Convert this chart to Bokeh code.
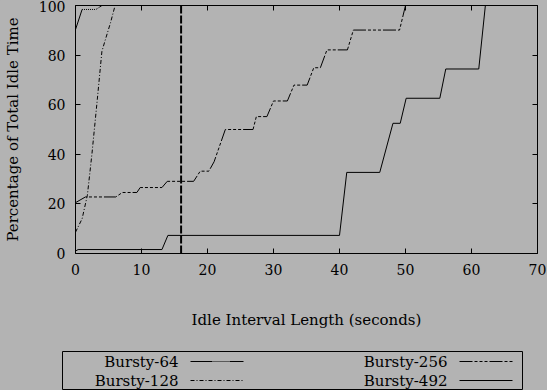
from bokeh.plotting import figure
from bokeh.models import Range1d, LinearAxis, FixedTicker, GlobalInlineStyleSheet
from bokeh.layouts import column, row
from bokeh.embed import file_html
from bokeh.resources import INLINE
from bokeh.core.properties import value

# ---------------- data ----------------
series_names = ["Bursty-64", "Bursty-128", "Bursty-256", "Bursty-492"]

b64_x = [0, 1.0, 3.1, 4.0, 70]
b64_y = [90.3, 98.4, 98.4, 100, 100]

b128_x = [0, 1.0, 1.8, 2.5, 3.3, 4.0, 4.5, 5.3, 6.0, 70]
b128_y = [8.6, 14, 23.5, 40.4, 62, 81.5, 86, 93, 100, 100]

b256_x = [0, 1.5, 6.1, 7.1, 9.3, 9.8, 13.1, 13.9, 17.9, 18.9, 20.2, 21.0, 22.7,
          26.9, 27.4, 29.0, 30.0, 32.1, 33.1, 35.1, 36.1, 37.1, 38.1, 41.2,
          42.1, 49.1, 50.0, 70]
b256_y = [20.5, 22.8, 22.8, 24.6, 24.6, 26.6, 26.6, 29.1, 29.1, 33.2, 33.2, 37, 50,
          50, 55.2, 55.2, 61.5, 61.5, 67.9, 67.9, 74.9, 74.9, 82.1, 82.1,
          90.1, 90.1, 100, 100]

b492_x = [0, 0.4, 13.1, 14.0, 40.0, 41.1, 46.1, 48.1, 49.2, 50.1, 55.2, 56.1, 61.1, 62.1, 70]
b492_y = [1.0, 1.6, 1.6, 7.3, 7.3, 32.7, 32.7, 52.5, 52.5, 62.6, 62.6, 74.4, 74.4, 100, 100]

threshold_x = [16, 16]
threshold_y = [0, 100]

x_ticks = [0, 10, 20, 30, 40, 50, 60, 70]
y_ticks = [0, 20, 40, 60, 80, 100]

x_title = "Idle Interval Length (seconds)"
y_title = "Percentage of Total Idle Time"

# ---------------- styles ----------------
BG = "#b3b3b3"
FONT = "DejaVu Serif"
dashes = ["22 1 1 1 1 1 1 1 1 1 1 1 1 1 1 1 1 1", "4 2 1 2", "13 2 3 2 3 2 3 2", "solid"]

css = GlobalInlineStyleSheet(css="html, body { margin: 0; padding: 0; background: %s; overflow: hidden; }" % BG)

p = figure(frame_width=462, frame_height=248, output_backend="svg", toolbar_location=None,
           x_range=Range1d(0, 70), y_range=Range1d(0, 100),
           min_border_left=75, min_border_right=10, min_border_top=5, min_border_bottom=97)
p.stylesheets = [css]
p.background_fill_color = BG
p.border_fill_color = BG
p.outline_line_color = "black"
p.outline_line_width = 1
p.grid.visible = False

for ax in (p.xaxis[0], p.yaxis[0]):
    ax.axis_line_color = None
    ax.major_tick_in = 5
    ax.major_tick_out = 0
    ax.minor_tick_line_color = None
    ax.major_tick_line_color = "black"
    ax.major_label_text_font = FONT
    ax.major_label_text_font_size = "14px"
    ax.major_label_text_color = "black"
    ax.major_label_standoff = 10
    ax.axis_label_text_font = FONT
    ax.axis_label_text_font_size = "15px"
    ax.axis_label_text_font_style = "normal"
    ax.axis_label_text_color = "black"

p.xaxis[0].ticker = FixedTicker(ticks=x_ticks)
p.yaxis[0].ticker = FixedTicker(ticks=y_ticks)
p.xaxis[0].axis_label = x_title
p.yaxis[0].axis_label = y_title
p.xaxis[0].axis_label_standoff = 33
p.yaxis[0].axis_label_standoff = 14

# mirrored tick marks (no labels) on top and right
for loc, ticks in (("above", x_ticks), ("right", y_ticks)):
    ax = LinearAxis(ticker=FixedTicker(ticks=ticks), axis_line_color=None,
                    major_tick_in=5, major_tick_out=0, minor_tick_line_color=None,
                    major_label_text_font_size="1px", major_label_text_color=None,
                    major_label_standoff=0)
    p.add_layout(ax, loc)

series = [(b64_x, b64_y), (b128_x, b128_y), (b256_x, b256_y), (b492_x, b492_y)]
for (xs, ys), dash in zip(series, dashes):
    p.line(xs, ys, line_color="black", line_width=1, line_dash=dash)

p.line(threshold_x, threshold_y, line_color="black", line_width=2, line_dash="8 2")

# ---------------- legend box ----------------
leg = figure(width=547, height=40, output_backend="svg", toolbar_location=None,
             x_range=Range1d(0, 460), y_range=Range1d(39, 0),
             min_border_left=62, min_border_right=25, min_border_top=1, min_border_bottom=0)
leg.stylesheets = [css]
leg.background_fill_color = BG
leg.border_fill_color = BG
leg.outline_line_color = "black"
leg.outline_line_width = 1
leg.grid.visible = False
leg.axis.visible = False

text_x = [116, 116, 385, 385]
text_y = [10, 29, 10, 29]
leg.text(x=text_x, y=text_y, text=series_names, text_align="right", text_baseline="middle",
         text_font=value(FONT), text_font_size="15px", text_color="black")
for tx, ty, dash in zip(text_x, text_y, dashes):
    leg.line([tx + 12, tx + 65], [ty, ty], line_color="black", line_width=1, line_dash=dash)

layout = column(p, row(leg, spacing=0), spacing=0)
open("out.html", "w").write(file_html(layout, INLINE))
